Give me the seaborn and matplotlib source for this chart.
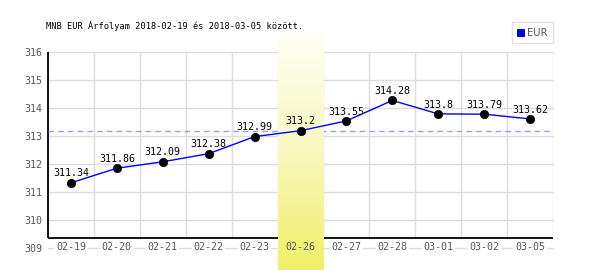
import numpy as np
import pandas as pd
import matplotlib
matplotlib.use("Agg")
import matplotlib.pyplot as plt
import matplotlib.colors as mcolors
from matplotlib.patches import Patch
import seaborn as sns

# ---- data ----
dates = ["02-19", "02-20", "02-21", "02-22", "02-23", "02-26",
         "02-27", "02-28", "03-01", "03-02", "03-05"]
values = [311.34, 311.86, 312.09, 312.38, 312.99, 313.2,
          313.55, 314.28, 313.8, 313.79, 313.62]
value_labels = ["311.34", "311.86", "312.09", "312.38", "312.99", "313.2",
                "313.55", "314.28", "313.8", "313.79", "313.62"]
y_ticks = [309, 310, 311, 312, 313, 314, 315, 316]
mean_level = 313.2
highlight_date = "02-26"
series_name = "EUR"
title = "MNB EUR Árfolyam 2018-02-19 és 2018-03-05 között."

df = pd.DataFrame({"date": dates, "value": values})
df["pos"] = np.arange(len(df))

sns.set_style("white")
plt.rcParams["font.family"] = ["DejaVu Sans Mono", "DejaVu Sans"]

W, H = 600, 270
fig = plt.figure(figsize=(W / 100, H / 100), dpi=100)
# axes: left 48px, right 553px, top (316) 52.3px, bottom (309) 248.3px
ax = fig.add_axes([48 / W, (H - 248.3) / H, 505 / W, 196 / H])
ax.set_xlim(-0.5, len(dates) - 0.5)
ax.set_ylim(y_ticks[0], y_ticks[-1])
ax.set_facecolor("none")
for s in ax.spines.values():
    s.set_visible(False)

px = 1 / 28.0  # one pixel in data units (y)
axis_level = y_ticks[0] + 10 * px  # black x axis line sits 10px above 309

grid_c = "#dddddd"
for yv in y_ticks:
    ax.axhline(yv, color=grid_c, lw=1.0, zorder=0.5, clip_on=False)
ax.vlines(np.arange(len(dates) + 1) - 0.5, axis_level, y_ticks[-1],
          color=grid_c, lw=1.0, zorder=0.5)
ax.axhline(axis_level, color="black", lw=1.3, zorder=1)
ax.vlines([-0.5], axis_level, y_ticks[-1], color="black", lw=1.3, zorder=1,
          clip_on=False)

# mean dashed line
ax.axhline(mean_level, color="#9999ff", lw=1.0, ls=(0, (4, 3)), zorder=1.2)

# highlight band (gradient) for the highlighted date
hi = dates.index(highlight_date)
cmap = mcolors.LinearSegmentedColormap.from_list(
    "band", ["#fffff4", "#f8f8c0", "#f0f068"])
grad = np.linspace(0, 1, 256).reshape(-1, 1)
band_top = y_ticks[-1] + (52.3 - 33.3) * px
band_bot = y_ticks[0] - (H - 248.3) * px
ax.imshow(grad, cmap=cmap, aspect="auto", origin="upper",
          extent=[hi - 0.5, hi + 0.5, band_bot, band_top],
          zorder=1.4, clip_on=False, interpolation="bilinear")
ax.set_xlim(-0.5, len(dates) - 0.5)
ax.set_ylim(y_ticks[0], y_ticks[-1])

# data line and points
sns.lineplot(data=df, x="pos", y="value", color="#0000ff", lw=1.0,
             ax=ax, zorder=3, legend=False)
sns.scatterplot(data=df, x="pos", y="value", color="black", s=36,
                edgecolor="black", linewidth=0.5, ax=ax, zorder=4,
                legend=False, clip_on=False)

for xpos, yv, lab in zip(df["pos"], df["value"], value_labels):
    ax.annotate(lab, (xpos, yv), xytext=(0, 4.6), textcoords="offset points",
                ha="center", va="baseline", fontsize=7.2, color="black",
                zorder=5)

# ticks
ax.set_xticks(df["pos"])
ax.set_xticklabels(dates)
ax.set_yticks(y_ticks)
ax.set_yticklabels([str(t) for t in y_ticks])
ax.tick_params(axis="both", length=0, labelsize=7.2, labelcolor="#555555")
ax.tick_params(axis="y", pad=4.2)
ax.tick_params(axis="x", pad=-4.3)
ax.xaxis.set_zorder(6)
ax.yaxis.set_zorder(6)
for i, lbl in enumerate(ax.get_xticklabels()):
    if dates[i] != highlight_date:
        lbl.set_bbox(dict(facecolor="white", edgecolor="none", pad=1.2))
ax.set_xlabel("")
ax.set_ylabel("")

# title
fig.text(46 / W, 1 - 26 / H, title, fontsize=6.2, color="black",
         ha="left", va="center")

# legend
handle = Patch(facecolor="#0000ff", edgecolor="#000066", linewidth=0.6,
               label=series_name)
leg = fig.legend(handles=[handle], loc="upper right",
                 bbox_to_anchor=(553 / W, 1 - 22.3 / H),
                 prop={"family": "DejaVu Sans", "size": 7.2},
                 frameon=True, fancybox=False, handlelength=0.7,
                 handleheight=0.7, handletextpad=0.3,
                 borderpad=0.55, borderaxespad=0)
leg.get_frame().set_edgecolor("#dddddd")
leg.get_frame().set_linewidth(1.0)
for t in leg.get_texts():
    t.set_color("#555555")

fig.savefig("out.png", dpi=100, facecolor="white")
